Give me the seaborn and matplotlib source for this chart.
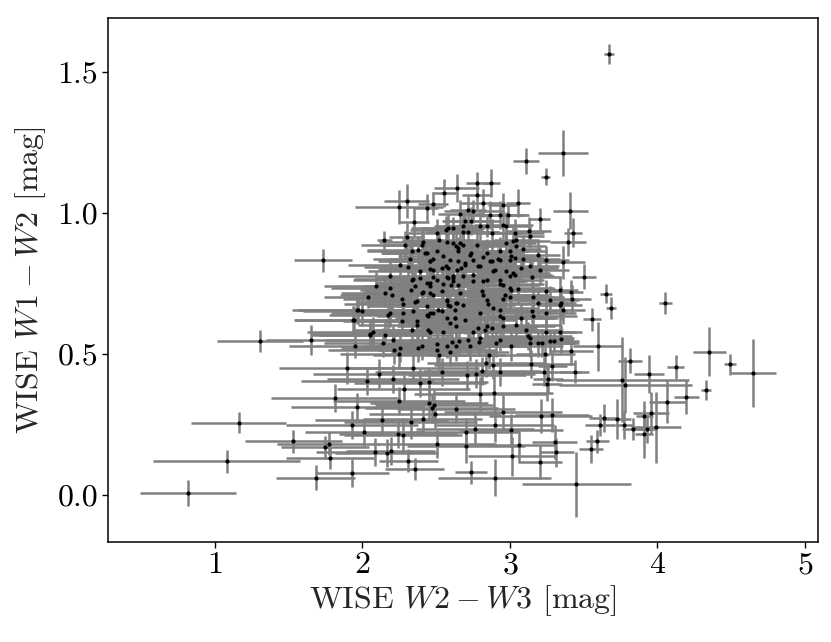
import numpy as np
import pandas as pd
import matplotlib
matplotlib.use("Agg")
import matplotlib.pyplot as plt
import seaborn as sns

# WISE W2-W3 colour, W1-W2 colour and their 1-sigma errors
w23 = [
    3.671, 3.362, 3.108, 3.244,
    4.055, 4.351, 4.494, 4.652, 4.329, 4.198, 4.125, 3.944, 3.814, 4.067, 3.958, 3.913,
    3.994, 3.930, 3.908, 3.832, 3.775, 3.764, 3.784, 3.725, 3.640, 3.613, 3.594, 3.551,
    3.452, 3.303, 3.316, 3.203, 3.285, 3.599, 3.414, 3.439, 3.556, 3.651, 3.687, 3.504,
    3.414, 3.420, 3.348, 3.350, 3.300, 3.289, 3.258, 3.253,
    2.780, 2.875, 3.411, 3.429, 3.395, 3.361, 3.203, 3.128, 3.135, 3.090,
    1.735, 2.148, 2.248, 2.300, 2.435, 2.478, 2.555, 2.639, 2.350, 2.300, 2.582, 2.612,
    2.571, 2.616, 2.650, 2.521, 2.413, 2.503, 2.379, 2.334, 2.322, 2.255, 2.311, 2.458,
    2.537, 2.582, 2.481, 2.503, 2.594, 2.639, 2.187, 2.345, 2.390, 2.435, 2.503, 2.548,
    2.616, 2.092, 2.153, 2.198, 2.040, 2.187, 2.356, 2.413, 2.458, 2.481, 2.266, 2.368,
    2.435, 2.481, 2.571, 2.594, 2.639, 1.972, 1.995, 1.938, 2.176, 2.277, 2.368, 2.435,
    2.594, 2.628,
    2.774, 2.819, 2.955, 3.056, 2.661, 2.717, 2.751, 2.864, 2.932, 2.989, 2.740, 2.695,
    2.570, 2.683, 2.796, 2.842, 2.955, 2.977, 3.034, 2.683, 2.717, 2.876, 2.661, 2.638,
    2.683, 2.774, 2.977, 3.022, 3.045, 2.288, 2.401, 2.424, 2.650, 2.740, 2.842, 2.932,
    3.000, 3.045, 3.000, 2.457, 2.751, 2.864, 2.932, 3.034, 2.695, 2.672, 2.796, 2.570,
    2.480, 2.390, 2.887, 2.977, 3.000, 3.034, 2.582, 2.683, 2.751, 2.842, 2.932, 2.333,
    2.457, 2.604, 2.537,
    2.729, 2.819, 2.921, 3.011, 3.090, 3.192, 2.695, 2.650, 2.785, 2.876, 3.079, 3.135,
    3.203, 3.248, 2.616, 2.751, 2.898, 3.022, 3.147, 2.616, 2.650, 2.819, 2.932, 2.955,
    3.011, 3.056, 3.000, 2.661, 2.808, 2.819, 2.966, 3.000, 3.158, 3.248, 3.339, 2.638,
    2.683, 2.842, 2.853, 2.955, 3.192, 3.271, 3.339, 2.627, 2.887, 2.932, 3.147, 3.248,
    3.361, 2.627, 2.695, 2.796, 2.932, 2.955, 3.079, 3.158, 2.842, 2.785, 2.638, 2.751,
    2.830, 2.876, 2.955, 3.045, 3.113, 3.248, 3.339, 2.717, 2.796, 2.932, 2.909, 3.135,
    3.192, 3.271, 2.638, 2.729, 3.011,
    2.435, 2.544, 2.458, 2.481, 2.334, 2.458, 2.571, 2.402, 2.277, 2.356, 2.571, 2.582,
    2.187, 2.345, 2.515, 2.537, 2.458, 2.447, 2.266, 2.368, 2.571, 2.074, 2.051, 2.153,
    2.334, 2.447, 2.458, 2.548, 2.205, 2.142, 1.950, 2.255, 2.379, 2.503, 2.571,
    2.055, 2.216, 2.249, 2.401, 2.503, 2.519, 2.593, 2.607, 2.654, 2.794, 2.860, 3.122,
    3.136, 3.219, 3.240, 3.145, 3.230, 2.837, 2.883, 2.930, 2.799, 2.895, 2.712, 2.773,
    2.812, 2.537, 2.342, 1.893, 2.112, 2.033, 2.207, 2.390, 2.449, 2.281, 2.249, 1.965,
    2.638, 2.469, 2.449, 2.487, 2.492, 2.408, 2.327, 2.130, 1.929, 2.012, 2.243, 2.277,
    2.085, 2.166, 2.191, 2.505, 2.700, 2.763, 2.706, 2.902, 3.009, 2.955, 3.210, 3.013,
    3.061, 2.898, 2.736, 2.311, 2.354, 1.929,
    0.819, 1.079, 1.163, 1.307, 1.649, 1.531, 1.683, 1.811, 1.771, 1.748, 1.782, 1.940,
    1.965,
]
w12 = [
    1.564, 1.212, 1.184, 1.128,
    0.681, 0.507, 0.462, 0.432, 0.371, 0.348, 0.453, 0.429, 0.476, 0.330, 0.291, 0.281,
    0.239, 0.233, 0.215, 0.234, 0.248, 0.408, 0.389, 0.268, 0.272, 0.247, 0.189, 0.161,
    0.037, 0.188, 0.150, 0.117, 0.283, 0.526, 0.511, 0.437, 0.622, 0.713, 0.662, 0.774,
    0.720, 0.695, 0.680, 0.553, 0.546, 0.455, 0.412, 0.394,
    1.105, 1.105, 1.008, 0.930, 0.896, 0.824, 0.978, 0.934, 0.916, 0.871,
    0.831, 0.902, 1.020, 1.041, 1.017, 1.033, 1.070, 1.088, 0.969, 0.914, 0.946, 0.946,
    0.898, 0.893, 0.875, 0.904, 0.898, 0.928, 0.869, 0.863, 0.836, 0.816, 0.807, 0.800,
    0.804, 0.804, 0.836, 0.863, 0.833, 0.798, 0.777, 0.765, 0.768, 0.751, 0.763, 0.748,
    0.768, 0.739, 0.715, 0.709, 0.701, 0.735, 0.739, 0.718, 0.715, 0.709, 0.694, 0.686,
    0.668, 0.644, 0.692, 0.668, 0.680, 0.656, 0.650, 0.621, 0.638, 0.644, 0.603, 0.638,
    0.609, 0.627,
    1.064, 1.035, 1.029, 1.035, 0.997, 1.009, 1.005, 0.993, 0.993, 0.993, 0.970, 0.970,
    0.940, 0.952, 0.952, 0.954, 0.958, 0.952, 0.928, 0.931, 0.931, 0.928, 0.893, 0.881,
    0.887, 0.887, 0.893, 0.899, 0.905, 0.887, 0.887, 0.857, 0.863, 0.857, 0.857, 0.863,
    0.863, 0.881, 0.834, 0.828, 0.834, 0.828, 0.834, 0.840, 0.822, 0.804, 0.810, 0.810,
    0.798, 0.792, 0.792, 0.792, 0.775, 0.781, 0.769, 0.775, 0.757, 0.763, 0.763, 0.727,
    0.739, 0.745, 0.721,
    0.851, 0.845, 0.836, 0.848, 0.836, 0.851, 0.816, 0.828, 0.810, 0.828, 0.804, 0.810,
    0.798, 0.834, 0.777, 0.780, 0.798, 0.786, 0.774, 0.757, 0.745, 0.757, 0.747, 0.745,
    0.727, 0.730, 0.733, 0.715, 0.721, 0.709, 0.709, 0.703, 0.703, 0.721, 0.727, 0.680,
    0.674, 0.692, 0.676, 0.694, 0.680, 0.692, 0.674, 0.656, 0.662, 0.656, 0.650, 0.644,
    0.656, 0.627, 0.621, 0.644, 0.633, 0.627, 0.627, 0.633, 0.597, 0.591, 0.597, 0.579,
    0.585, 0.591, 0.599, 0.603, 0.585, 0.579, 0.579, 0.550, 0.556, 0.550, 0.538, 0.556,
    0.538, 0.544, 0.526, 0.526, 0.526,
    0.857, 0.848, 0.828, 0.774, 0.760, 0.751, 0.774, 0.715, 0.678, 0.682, 0.686, 0.674,
    0.644, 0.650, 0.656, 0.650, 0.644, 0.635, 0.615, 0.615, 0.627, 0.579, 0.568, 0.568,
    0.585, 0.585, 0.579, 0.579, 0.550, 0.540, 0.526, 0.520, 0.520, 0.536, 0.526,
    0.571, 0.512, 0.499, 0.529, 0.512, 0.494, 0.506, 0.541, 0.545, 0.541, 0.496, 0.562,
    0.538, 0.538, 0.501, 0.464, 0.437, 0.469, 0.459, 0.436, 0.357, 0.362, 0.423, 0.430,
    0.439, 0.435, 0.448, 0.450, 0.430, 0.404, 0.410, 0.395, 0.400, 0.376, 0.333, 0.310,
    0.305, 0.306, 0.327, 0.320, 0.286, 0.268, 0.259, 0.265, 0.246, 0.223, 0.216, 0.212,
    0.152, 0.148, 0.154, 0.181, 0.174, 0.234, 0.222, 0.246, 0.228, 0.295, 0.280, 0.136,
    0.175, 0.060, 0.079, 0.121, 0.091, 0.076,
    0.007, 0.119, 0.256, 0.545, 0.549, 0.189, 0.061, 0.344, 0.181, 0.168, 0.131, 0.620,
    0.656,
]
w23_err = [
    0.033, 0.170, 0.088, 0.030,
    0.045, 0.112, 0.040, 0.153, 0.034, 0.084, 0.056, 0.100, 0.081, 0.120, 0.120, 0.060,
    0.170, 0.070, 0.060, 0.070, 0.060, 0.450, 0.450, 0.100, 0.100, 0.100, 0.080, 0.080,
    0.370, 0.150, 0.120, 0.150, 0.250, 0.170, 0.150, 0.100, 0.060, 0.040, 0.035, 0.080,
    0.080, 0.130, 0.100, 0.080, 0.120, 0.100, 0.100, 0.100,
    0.080, 0.060, 0.116, 0.060, 0.120, 0.150, 0.070, 0.150, 0.100, 0.120,
    0.196, 0.050, 0.300, 0.150, 0.080, 0.100, 0.080, 0.150, 0.100, 0.120, 0.250, 0.200,
    0.250, 0.300, 0.200, 0.250, 0.300, 0.200, 0.350, 0.300, 0.250, 0.350, 0.300, 0.350,
    0.300, 0.250, 0.300, 0.250, 0.300, 0.350, 0.350, 0.400, 0.300, 0.350, 0.300, 0.350,
    0.300, 0.350, 0.300, 0.350, 0.300, 0.400, 0.350, 0.400, 0.350, 0.300, 0.400, 0.350,
    0.400, 0.350, 0.300, 0.350, 0.300, 0.450, 0.400, 0.400, 0.400, 0.350, 0.400, 0.350,
    0.350, 0.300,
    0.100, 0.150, 0.100, 0.080, 0.150, 0.120, 0.200, 0.150, 0.200, 0.120, 0.200, 0.150,
    0.250, 0.200, 0.250, 0.150, 0.200, 0.150, 0.200, 0.250, 0.200, 0.200, 0.300, 0.250,
    0.250, 0.300, 0.200, 0.250, 0.150, 0.300, 0.250, 0.300, 0.250, 0.300, 0.250, 0.200,
    0.250, 0.200, 0.300, 0.300, 0.250, 0.300, 0.250, 0.200, 0.300, 0.350, 0.300, 0.300,
    0.350, 0.350, 0.300, 0.250, 0.300, 0.250, 0.350, 0.300, 0.350, 0.300, 0.300, 0.350,
    0.350, 0.300, 0.350,
    0.250, 0.300, 0.250, 0.200, 0.250, 0.150, 0.300, 0.300, 0.300, 0.250, 0.250, 0.200,
    0.200, 0.150, 0.350, 0.300, 0.300, 0.250, 0.200, 0.350, 0.350, 0.300, 0.300, 0.250,
    0.300, 0.250, 0.300, 0.350, 0.300, 0.350, 0.300, 0.300, 0.200, 0.150, 0.120, 0.350,
    0.350, 0.300, 0.350, 0.300, 0.200, 0.200, 0.150, 0.350, 0.300, 0.300, 0.250, 0.200,
    0.150, 0.400, 0.350, 0.350, 0.300, 0.350, 0.250, 0.300, 0.350, 0.400, 0.400, 0.350,
    0.350, 0.300, 0.350, 0.300, 0.250, 0.200, 0.150, 0.400, 0.350, 0.350, 0.400, 0.300,
    0.250, 0.200, 0.400, 0.400, 0.350,
    0.300, 0.300, 0.350, 0.350, 0.400, 0.350, 0.300, 0.400, 0.400, 0.400, 0.350, 0.350,
    0.400, 0.400, 0.350, 0.350, 0.400, 0.350, 0.400, 0.400, 0.350, 0.450, 0.400, 0.450,
    0.400, 0.400, 0.350, 0.400, 0.450, 0.400, 0.450, 0.400, 0.450, 0.400, 0.400,
    0.400, 0.450, 0.400, 0.400, 0.400, 0.450, 0.400, 0.400, 0.350, 0.350, 0.400, 0.300,
    0.300, 0.250, 0.200, 0.300, 0.250, 0.400, 0.400, 0.350, 0.450, 0.400, 0.400, 0.400,
    0.400, 0.450, 0.450, 0.460, 0.450, 0.450, 0.450, 0.450, 0.400, 0.450, 0.450, 0.450,
    0.400, 0.450, 0.400, 0.400, 0.450, 0.400, 0.450, 0.450, 0.450, 0.400, 0.400, 0.400,
    0.400, 0.350, 0.300, 0.400, 0.400, 0.400, 0.350, 0.400, 0.350, 0.400, 0.350, 0.300,
    0.250, 0.384, 0.110, 0.200, 0.200, 0.250,
    0.325, 0.500, 0.322, 0.290, 0.300, 0.330, 0.270, 0.430, 0.350, 0.300, 0.300, 0.400,
    0.400,
]
w12_err = [
    0.035, 0.082, 0.045, 0.031,
    0.039, 0.087, 0.038, 0.120, 0.035, 0.060, 0.044, 0.067, 0.044, 0.076, 0.074, 0.050,
    0.127, 0.050, 0.086, 0.040, 0.050, 0.150, 0.100, 0.070, 0.050, 0.040, 0.040, 0.050,
    0.115, 0.060, 0.050, 0.060, 0.060, 0.086, 0.050, 0.040, 0.040, 0.034, 0.039, 0.044,
    0.040, 0.050, 0.060, 0.050, 0.040, 0.050, 0.050, 0.060,
    0.040, 0.050, 0.065, 0.050, 0.050, 0.060, 0.040, 0.050, 0.040, 0.050,
    0.041, 0.032, 0.060, 0.060, 0.050, 0.040, 0.050, 0.050, 0.050, 0.050, 0.050, 0.040,
    0.050, 0.050, 0.040, 0.050, 0.050, 0.050, 0.050, 0.050, 0.050, 0.050, 0.040, 0.050,
    0.050, 0.040, 0.050, 0.050, 0.050, 0.050, 0.050, 0.050, 0.040, 0.050, 0.050, 0.050,
    0.050, 0.050, 0.050, 0.050, 0.040, 0.050, 0.050, 0.050, 0.050, 0.040, 0.050, 0.050,
    0.050, 0.050, 0.050, 0.050, 0.040, 0.050, 0.050, 0.050, 0.050, 0.050, 0.050, 0.050,
    0.050, 0.050,
    0.050, 0.050, 0.040, 0.050, 0.050, 0.050, 0.040, 0.050, 0.050, 0.040, 0.050, 0.040,
    0.050, 0.050, 0.050, 0.040, 0.050, 0.050, 0.050, 0.050, 0.040, 0.050, 0.050, 0.050,
    0.040, 0.050, 0.050, 0.050, 0.040, 0.050, 0.050, 0.050, 0.040, 0.050, 0.050, 0.050,
    0.040, 0.050, 0.050, 0.050, 0.050, 0.040, 0.050, 0.050, 0.050, 0.050, 0.040, 0.050,
    0.050, 0.050, 0.050, 0.050, 0.040, 0.050, 0.050, 0.050, 0.050, 0.040, 0.050, 0.050,
    0.050, 0.040, 0.050,
    0.050, 0.050, 0.040, 0.050, 0.050, 0.050, 0.050, 0.040, 0.050, 0.050, 0.050, 0.040,
    0.050, 0.050, 0.050, 0.050, 0.040, 0.050, 0.050, 0.050, 0.040, 0.050, 0.050, 0.050,
    0.040, 0.050, 0.050, 0.050, 0.050, 0.040, 0.050, 0.050, 0.050, 0.040, 0.050, 0.050,
    0.050, 0.040, 0.050, 0.050, 0.050, 0.050, 0.040, 0.050, 0.050, 0.050, 0.040, 0.050,
    0.050, 0.050, 0.050, 0.040, 0.050, 0.050, 0.050, 0.050, 0.040, 0.050, 0.050, 0.050,
    0.050, 0.040, 0.050, 0.050, 0.050, 0.040, 0.050, 0.050, 0.050, 0.040, 0.050, 0.050,
    0.050, 0.040, 0.050, 0.050, 0.050,
    0.050, 0.050, 0.040, 0.050, 0.050, 0.050, 0.040, 0.050, 0.050, 0.050, 0.040, 0.050,
    0.050, 0.050, 0.040, 0.050, 0.050, 0.050, 0.040, 0.050, 0.050, 0.050, 0.040, 0.050,
    0.050, 0.050, 0.040, 0.050, 0.050, 0.050, 0.040, 0.050, 0.050, 0.050, 0.040,
    0.050, 0.050, 0.050, 0.050, 0.050, 0.050, 0.050, 0.040, 0.050, 0.050, 0.050, 0.050,
    0.050, 0.050, 0.050, 0.050, 0.050, 0.050, 0.050, 0.050, 0.060, 0.060, 0.050, 0.050,
    0.050, 0.050, 0.050, 0.057, 0.050, 0.050, 0.050, 0.050, 0.050, 0.050, 0.050, 0.050,
    0.050, 0.050, 0.060, 0.050, 0.050, 0.050, 0.060, 0.050, 0.050, 0.050, 0.050, 0.060,
    0.050, 0.050, 0.050, 0.050, 0.060, 0.060, 0.050, 0.060, 0.060, 0.060, 0.060, 0.070,
    0.060, 0.066, 0.040, 0.040, 0.040, 0.050,
    0.047, 0.041, 0.038, 0.039, 0.053, 0.040, 0.043, 0.050, 0.040, 0.040, 0.040, 0.050,
    0.050,
]

df = pd.DataFrame({"w23": w23, "w12": w12, "w23_err": w23_err, "w12_err": w12_err})

sns.set_style("ticks")
plt.rcParams["font.family"] = "serif"
plt.rcParams["font.serif"] = ["cmr10", "DejaVu Serif"]
plt.rcParams["mathtext.fontset"] = "cm"
plt.rcParams["axes.formatter.use_mathtext"] = True
plt.rcParams["axes.unicode_minus"] = False

fig = plt.figure(figsize=(8.31, 6.42), dpi=100)
ax = fig.add_axes([0.130, 0.156, 0.854, 0.816])

ax.errorbar(df["w23"], df["w12"], xerr=df["w23_err"], yerr=df["w12_err"],
            fmt="none", ecolor="0.5", elinewidth=1.8, capsize=0, zorder=1)
sns.scatterplot(data=df, x="w23", y="w12", ax=ax, color="black", s=9,
                linewidth=0, zorder=3)

ax.set_xlim(0.275, 5.088)
ax.set_ylim(-0.167, 1.691)
ax.set_xticks([1, 2, 3, 4, 5])
ax.set_yticks([0.0, 0.5, 1.0, 1.5])
ax.set_yticklabels(["0.0", "0.5", "1.0", "1.5"])
ax.tick_params(axis="both", direction="out", length=4, width=1, labelsize=23,
               color="black", labelcolor="black", pad=3)
for sp in ax.spines.values():
    sp.set_visible(True)
    sp.set_color("black")
    sp.set_linewidth(1.1)

ax.set_xlabel(r"WISE $W2-W3$ [mag]", fontsize=23, labelpad=3)
ax.set_ylabel(r"WISE $W1-W2$ [mag]", fontsize=23, labelpad=7)

fig.savefig("out.png", dpi=100)
